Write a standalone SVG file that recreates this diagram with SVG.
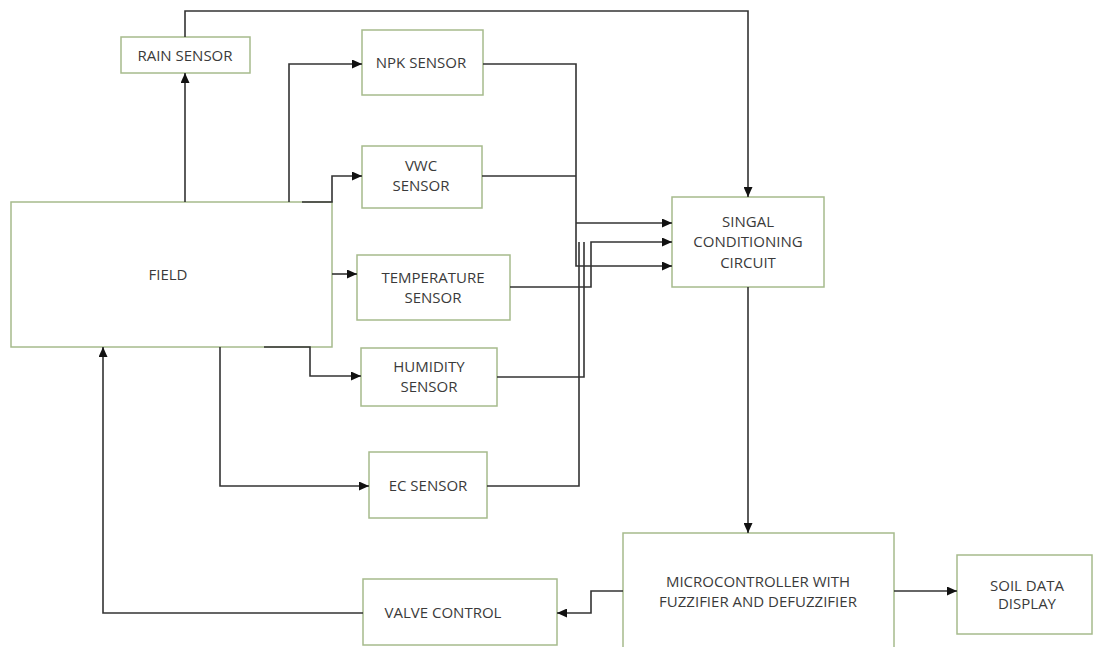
<svg xmlns="http://www.w3.org/2000/svg" width="1094" height="647" viewBox="0 0 1094 647">
<style>
.box{fill:#ffffff;stroke:#a6bb8c;stroke-width:1.5}
.ln{fill:none;stroke:#333333;stroke-width:1.6}
.t{font-family:"Open Sans","Liberation Sans",sans-serif;font-size:15px;fill:#3a3a3a;text-anchor:middle}
</style>
<defs>
<marker id="ah" markerUnits="userSpaceOnUse" markerWidth="11" markerHeight="9" refX="10" refY="4.5" orient="auto">
<path d="M0,0 L10,4.5 L0,9 z" fill="#111111"/>
</marker>
</defs>
<rect width="1094" height="647" fill="#ffffff"/>
<g id="field"><rect class="box" x="11" y="202" width="321" height="145"/><text class="t" x="168" y="280">FIELD</text></g>
<g id="rain"><rect class="box" x="121" y="37" width="129" height="36"/><text class="t" x="185" y="61">RAIN SENSOR</text></g>
<g id="npk"><rect class="box" x="362" y="30" width="121" height="65"/><text class="t" x="421" y="68">NPK SENSOR</text></g>
<g id="vwc"><rect class="box" x="362" y="146" width="120" height="62"/><text class="t" x="421" y="171">VWC</text><text class="t" x="421" y="191">SENSOR</text></g>
<g id="temp"><rect class="box" x="357" y="255" width="153" height="65"/><text class="t" x="433" y="283">TEMPERATURE</text><text class="t" x="433" y="303">SENSOR</text></g>
<g id="hum"><rect class="box" x="361" y="348" width="136" height="58"/><text class="t" x="429" y="372">HUMIDITY</text><text class="t" x="429" y="392">SENSOR</text></g>
<g id="ec"><rect class="box" x="369" y="452" width="118" height="66"/><text class="t" x="428" y="491">EC SENSOR</text></g>
<g id="sc"><rect class="box" x="672" y="197" width="152" height="90"/><text class="t" x="748" y="227">SINGAL</text><text class="t" x="748" y="247">CONDITIONING</text><text class="t" x="748" y="268">CIRCUIT</text></g>
<g id="micro"><rect class="box" x="623" y="533" width="271" height="120"/><text class="t" x="758" y="587">MICROCONTROLLER WITH</text><text class="t" x="758" y="607">FUZZIFIER AND DEFUZZIFIER</text></g>
<g id="valve"><rect class="box" x="363" y="579" width="194" height="66"/><text class="t" x="443" y="618">VALVE CONTROL</text></g>
<g id="soil"><rect class="box" x="957" y="555" width="135" height="79"/><text class="t" x="1027" y="591">SOIL DATA</text><text class="t" x="1027" y="609">DISPLAY</text></g>
<g id="connectors">
<path class="ln" d="M185,202 V73" marker-end="url(#ah)"/>
<path class="ln" d="M185,37 V11 H748 V197" marker-end="url(#ah)"/>
<path class="ln" d="M289,202 V64 H362" marker-end="url(#ah)"/>
<path class="ln" d="M302,202 H332 V176 H362" marker-end="url(#ah)"/>
<path class="ln" d="M332,274 H357" marker-end="url(#ah)"/>
<path class="ln" d="M264,347 H310 V376 H361" marker-end="url(#ah)"/>
<path class="ln" d="M220,347 V486 H369" marker-end="url(#ah)"/>
<path class="ln" d="M483,64 H576 V266 H672" marker-end="url(#ah)"/>
<path class="ln" d="M482,176 H576"/>
<path class="ln" d="M576,223 H672" marker-end="url(#ah)"/>
<path class="ln" d="M510,287 H591 V242 H672" marker-end="url(#ah)"/>
<path class="ln" d="M497,377 H584 V242"/>
<path class="ln" d="M487,486 H579 V242"/>
<path class="ln" d="M748,287 V533" marker-end="url(#ah)"/>
<path class="ln" d="M623,591 H591 V613 H557" marker-end="url(#ah)"/>
<path class="ln" d="M363,613 H103 V347" marker-end="url(#ah)"/>
<path class="ln" d="M894,591 H957" marker-end="url(#ah)"/>
</g>
</svg>
